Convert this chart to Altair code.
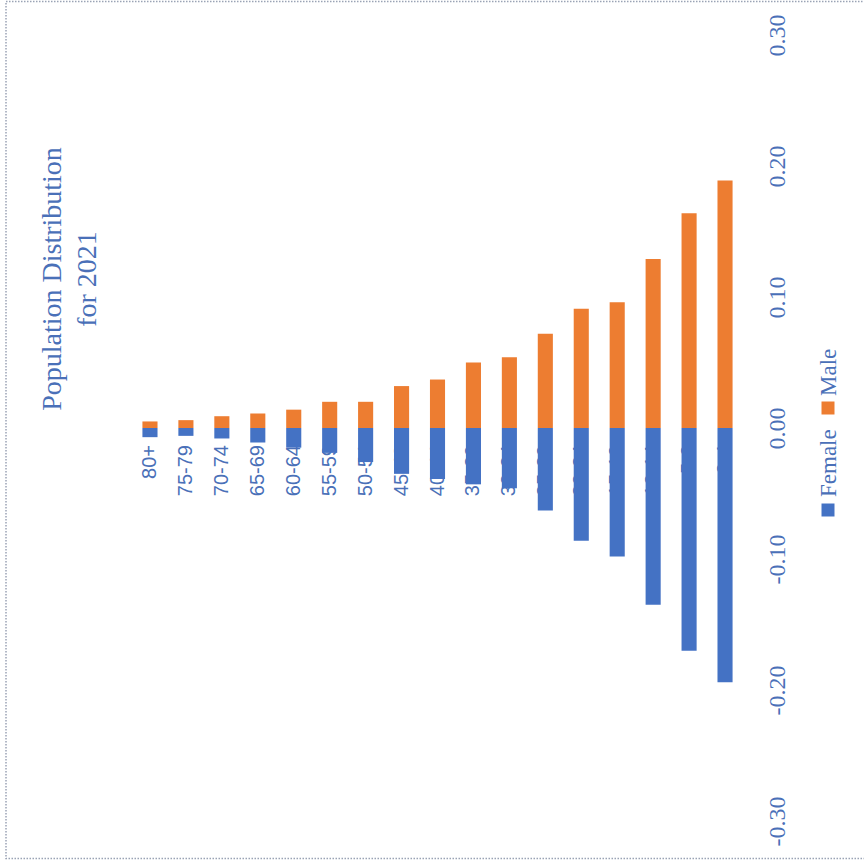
import altair as alt
import pandas as pd

# Age groups, oldest first
ages = ["80+", "75-79", "70-74", "65-69", "60-64", "55-59", "50-54", "45-49",
        "40-44", "35-39", "30-34", "25-29", "20-24", "15-19", "10-14", "5-9", "0-4"]

# Population shares (female drawn on the negative side)
male = [0.005, 0.006, 0.009, 0.011, 0.014, 0.020, 0.020, 0.032,
        0.037, 0.050, 0.054, 0.072, 0.091, 0.096, 0.129, 0.164, 0.189]
female = [-0.007, -0.006, -0.008, -0.011, -0.015, -0.019, -0.026, -0.035,
          -0.039, -0.043, -0.046, -0.063, -0.086, -0.098, -0.135, -0.170, -0.194]

series = ["Female", "Male"]
colors = ["#4472C4", "#ED7D31"]
ticks = [-0.3, -0.2, -0.1, 0.0, 0.1, 0.2, 0.3]

TEXT_BLUE = "#4a70b8"
SERIF = "Liberation Serif"

rows = []
for a, m, f in zip(ages, male, female):
    rows.append({"age": a, "sex": "Male", "value": m})
    rows.append({"age": a, "sex": "Female", "value": f})
df = pd.DataFrame(rows)

x_enc = alt.X("age:N", sort=ages, axis=None,
              scale=alt.Scale(paddingInner=0.58, paddingOuter=0.29))
y_scale = alt.Scale(domain=[-0.3, 0.3], nice=False)

base = alt.Chart(df)

# Category names sit under the bars, reading upward from below the zero line
labels = alt.Chart(pd.DataFrame({"age": ages})).mark_text(
    angle=270, align="right", baseline="middle", dx=-17,
    font="Liberation Sans", fontSize=20, color=TEXT_BLUE
).encode(
    x=x_enc,
    y=alt.datum(0, scale=y_scale),
    text="age:N",
)

bars = base.mark_bar().encode(
    x=x_enc,
    y=alt.Y("value:Q", stack=None, scale=y_scale,
            axis=alt.Axis(orient="right", values=ticks, title=None,
                          labelExpr="(datum.value < 0 ? '-' : '') + format(abs(datum.value), '.2f')",
                          labelAngle=270, labelAlign="center", labelBaseline="middle",
                          labelPadding=34, tickSize=0, ticks=False, domain=False,
                          grid=False, labelFlush=False, labelOverlap=False,
                          labelFont=SERIF, labelFontSize=24, labelColor=TEXT_BLUE)),
    color=alt.Color("sex:N", scale=alt.Scale(domain=series, range=colors), legend=None),
)

# Chart title, rotated to read upward
title = alt.Chart(pd.DataFrame({"t": [0]})).mark_text(
    angle=270, align="center", baseline="middle", lineHeight=35,
    font=SERIF, fontSize=28, color=TEXT_BLUE,
    text=["Population Distribution", "for 2021"],
).encode(x=alt.value(-79), y=alt.value(244))

# Hand-built legend with rotated entries
legend_pos = {"Female": (475, 462), "Male": (373, 361)}
legend_layers = []
for name, col in zip(series, colors):
    sq_y, txt_y = legend_pos[name]
    legend_layers.append(
        alt.Chart(pd.DataFrame({"s": [name]})).mark_square(
            size=169, color=col, opacity=1, filled=True
        ).encode(x=alt.value(696), y=alt.value(sq_y))
    )
    legend_layers.append(
        alt.Chart(pd.DataFrame({"s": [name]})).mark_text(
            angle=270, align="left", baseline="middle",
            font=SERIF, fontSize=23, color=TEXT_BLUE
        ).encode(x=alt.value(697), y=alt.value(txt_y), text="s:N")
    )

# Dotted frame around the whole chart
frame = alt.Chart(pd.DataFrame({"f": [0]})).mark_rect(
    fill="white", fillOpacity=0, stroke="#9aa3b5", strokeWidth=1.5, strokeDash=[1.5, 1.5]
).encode(x=alt.value(-126), x2=alt.value(745), y=alt.value(-33.5), y2=alt.value(823.5))

chart = alt.layer(frame, labels, bars, title, *legend_layers).properties(
    width=611, height=786,
    autosize=alt.AutoSizeParams(type="none"),
    padding={"left": 132, "top": 35, "right": 121, "bottom": 47},
    background="white",
).configure_view(stroke=None)

chart.save("out.html", embed_options={"renderer": "svg", "actions": False})
